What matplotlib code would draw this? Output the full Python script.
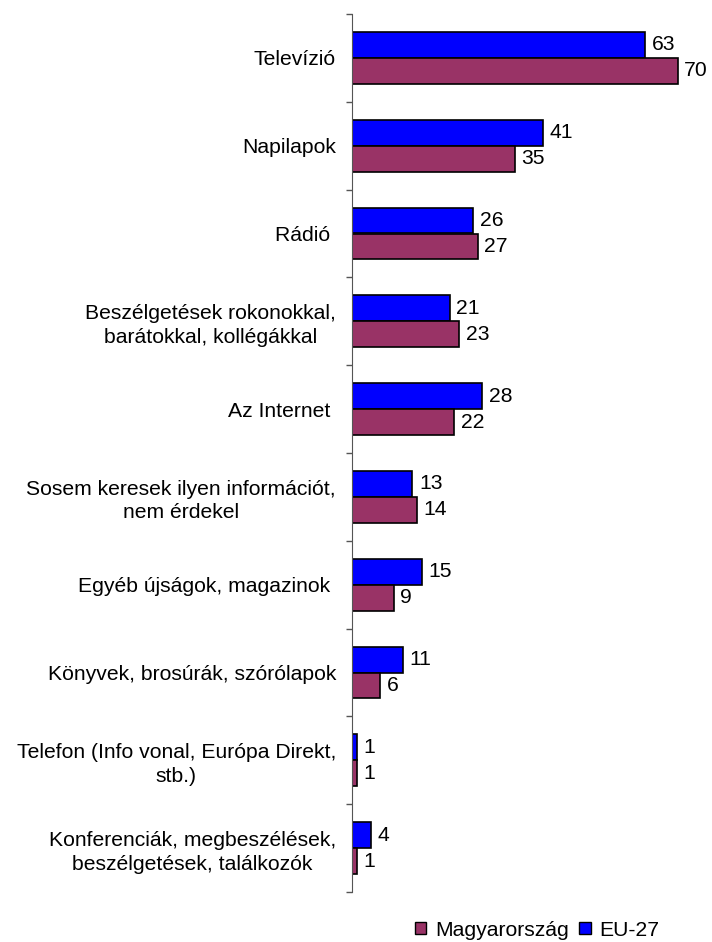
import matplotlib
matplotlib.use("Agg")
import matplotlib.pyplot as plt
import numpy as np
from matplotlib.patches import Patch

plt.rcParams['font.family'] = ['Liberation Sans', 'DejaVu Sans']

categories = [
    "Televízió",
    "Napilapok",
    "Rádió ",
    "Beszélgetések rokonokkal,\nbarátokkal, kollégákkal",
    "Az Internet ",
    "Sosem keresek ilyen információt,\nnem érdekel",
    "Egyéb újságok, magazinok ",
    "Könyvek, brosúrák, szórólapok",
    "Telefon (Info vonal, Európa Direkt,\nstb.)",
    "Konferenciák, megbeszélések,\nbeszélgetések, találkozók",
]
eu27 = [63, 41, 26, 21, 28, 13, 15, 11, 1, 4]
hu = [70, 35, 27, 23, 22, 14, 9, 6, 1, 1]
series_names = ["Magyarország", "EU-27"]

col_hu = "#993366"
col_eu = "#0000FF"

fig = plt.figure(figsize=(7.12, 9.42), dpi=100)
ax = fig.add_axes([352/712, 50/942, 349/712, 878/942])

n = len(categories)
y = np.arange(n)
h = 0.295
ax.barh(y - h/2, eu27, height=h, color=col_eu, edgecolor='black', linewidth=1.2)
ax.barh(y + h/2, hu, height=h, color=col_hu, edgecolor='black', linewidth=1.2)

fs = 15.2
for yi, v in zip(y, eu27):
    ax.text(v + 1.4, yi - h/2, str(v), va='center', ha='left', fontsize=fs)
for yi, v in zip(y, hu):
    ax.text(v + 1.4, yi + h/2, str(v), va='center', ha='left', fontsize=fs)

ax.set_ylim(n - 0.5, -0.5)
ax.set_xlim(0, 75)
ax.set_yticks(y)
ax.set_yticklabels(categories, fontsize=fs, multialignment='center', linespacing=1.3)
ax.tick_params(axis='y', which='major', length=0, pad=11.5)
ax.set_yticks(np.arange(-0.5, n, 1.0), minor=True)
ax.tick_params(axis='y', which='minor', length=4, width=1, color='#555555')
ax.set_xticks([])
for s in ['top', 'right', 'bottom']:
    ax.spines[s].set_visible(False)
ax.spines['left'].set_color('#555555')

handles = [Patch(facecolor=col_hu, edgecolor='black'), Patch(facecolor=col_eu, edgecolor='black')]
fig.legend(handles, series_names, loc='center', bbox_to_anchor=(537/712, 1 - 930/942),
           ncol=2, frameon=False, fontsize=fs, handlelength=0.55, handleheight=0.55,
           handletextpad=0.4, columnspacing=0.5, borderpad=0, borderaxespad=0)

fig.savefig("out.png", dpi=100)
